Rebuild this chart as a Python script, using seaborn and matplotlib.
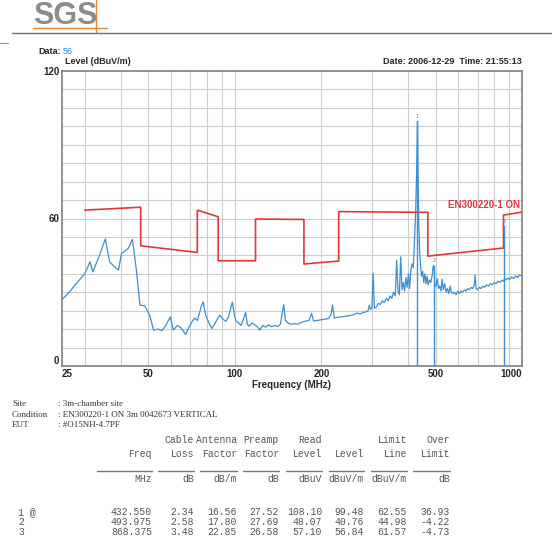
import matplotlib
matplotlib.use("Agg")
import matplotlib.pyplot as plt
import seaborn as sns
import pandas as pd
import numpy as np

freq = [25.0, 26.5, 28, 30, 31.3, 32.0, 33.5, 35.4, 36.6, 38, 39.3, 40.3, 42.5, 44.0, 45.5,
        46.7, 48.6, 50.5, 52.1, 54, 55.7, 57.5, 59.6, 61.0, 63, 65, 67.4, 69, 70.9, 72.5,
        74, 76.4, 77.6, 79, 80.5, 82, 83.2, 85, 88.5, 91, 93, 95, 98.0, 99.5, 101, 103,
        105, 107, 109, 110.5, 112, 115, 118, 120, 122, 125, 128, 131, 134, 138, 141, 144,
        146, 148, 150, 153, 157, 161, 165, 169, 173, 177, 181, 185, 188, 193, 198, 205,
        212, 216, 219, 222, 228, 235, 242, 250, 258, 266, 273, 280, 286, 291, 294, 297,
        300, 303, 306, 311, 316, 321, 326, 331, 337, 342, 347, 352, 357, 362, 366, 370,
        374, 378, 382, 386, 390, 394, 398, 402, 406, 410, 414, 418, 422, 426, 429, 432.55,
        435, 437, 440, 444, 447, 451, 455, 459, 463, 467, 471, 476, 481, 486, 490, 494,
        497, 502, 507, 512, 517, 522, 527, 532, 538, 544, 550, 556, 562, 568, 575, 582,
        590, 598, 606, 614, 622, 630, 638, 646, 655, 664, 673, 682, 687, 692, 700, 710,
        720, 730, 740, 752, 764, 776, 788, 800, 812, 825, 838, 850, 862, 868.375, 880, 893,
        906, 920, 935, 950, 965, 980, 1000]
level = [27.0, 30, 33.5, 37.5, 42.4, 38.3, 44, 51.7, 42.4, 40.5, 39.0, 45.8, 47.8, 51.5, 38,
         24.8, 24.4, 20.7, 14.6, 15.0, 14.4, 16.5, 20.0, 14.6, 16.5, 15.5, 12.8, 15.5, 18.0, 19.5,
         18.5, 24.3, 26.1, 21, 18.5, 16.5, 15.3, 17, 20.7, 19.0, 18.2, 20, 26.0, 21, 18.2, 17.5,
         16.5, 19, 21.8, 17, 16.2, 17.5, 16.5, 15.8, 14.6, 16.5, 15.8, 16.7, 16.0, 16.5, 16.0, 17.0,
         21.0, 25.0, 18.5, 17.5, 17.0, 17.2, 17.0, 17.5, 18.0, 18.3, 18.5, 21.4, 18.3, 18.5, 18.7, 19.0,
         19.3, 21.0, 24.8, 19.5, 19.8, 20.0, 20.2, 20.5, 20.8, 21.5, 21.2, 21.8, 22.0, 22.5, 24.8, 23.0,
         23.5, 37.7, 23.5, 24.0, 25.5, 25.0, 26.5, 25.8, 27.5, 26.5, 28.5, 27.5, 30.0, 28.5, 43.0, 30.5,
         29.0, 44.4, 31.0, 34.0, 30.5, 36.0, 32.0, 37.5, 31.5, 39.0, 41.5, 40.0, 50.0, 62.0, 76.0, 99.5,
         74.0, 58.0, 47.0, 40.0, 36.5, 38.5, 34.0, 37.5, 33.5, 36.5, 33.0, 35.0, 34.0, 36.5, 40.4, 40.8,
         33.0, 32.5, 35.5, 31.5, 32.5, 30.5, 35.3, 31.0, 33.5, 30.0, 31.5, 29.5, 32.5, 30.0, 29.5, 30.0,
         29.0, 30.5, 29.5, 30.5, 30.0, 31.0, 30.5, 31.5, 31.0, 32.0, 31.5, 33.0, 37.0, 31.5, 31.0, 32.0,
         31.5, 32.5, 32.0, 33.0, 32.5, 33.5, 33.0, 34.0, 33.5, 34.5, 34.0, 34.8, 34.5, 35.5, 35.0, 35.8,
         35.2, 36.2, 35.6, 36.6, 36.0, 37.0, 36.5]

# EN300220-1 limit line
lim_freq = [30, 47, 47, 74, 74, 87.5, 87.5, 118, 118, 174, 174, 230, 230, 470, 470, 862, 862, 1000]
lim_level = [63.4, 64.6, 48.9, 46.2, 63.4, 60.7, 42.8, 42.8, 59.8, 59.6, 41.5, 42.7, 62.8, 62.5,
             44.7, 48.0, 61.4, 62.6]

# marker table
mk_no = ["1 @", "2", "3"]
mk_freq = [432.550, 493.975, 868.375]
mk_cable = [2.34, 2.58, 3.48]
mk_ant = [16.56, 17.80, 22.85]
mk_pre = [27.52, 27.69, 26.58]
mk_read = [108.10, 48.07, 57.10]
mk_level = [99.48, 40.76, 56.84]
mk_limit = [62.55, 44.98, 61.57]
mk_over = [36.93, -4.22, -4.73]

sns.set_style("white")
plt.rcParams['font.family'] = ['Liberation Sans', 'DejaVu Sans']

W, H = 552, 548
fig = plt.figure(figsize=(W / 100, H / 100), dpi=100)

def px(x, y):
    return x / W, 1 - y / H

ax = fig.add_axes([62 / W, 1 - 366 / H, 460 / W, 295 / H])
ax.set_xscale('log')
ax.set_xlim(25, 1000)
ax.set_ylim(0, 120)

# grid
for g in [30, 40, 50, 60, 70, 80, 90, 100, 200, 300, 400, 500, 600, 700, 800, 900]:
    ax.axvline(g, color='#cdcdcd', lw=0.8, zorder=0)
for g in np.arange(7.5, 120, 7.5):
    ax.axhline(g, color='#cdcdcd', lw=0.8, zorder=0)

trace = pd.DataFrame({'freq': freq, 'level': level})
limit = pd.DataFrame({'freq': lim_freq, 'level': lim_level})
sns.lineplot(data=trace, x='freq', y='level', ax=ax, color='#3d8fd4', lw=0.9,
             sort=False, estimator=None)
sns.lineplot(data=limit, x='freq', y='level', ax=ax, color='#e2383a', lw=1.2,
             sort=False, estimator=None)

# marker lines
for i, (f, l) in enumerate(zip(mk_freq, mk_level)):
    ax.plot([f, f], [0, l], color='#3d8fd4', lw=1.0)
    ax.text(f, l + 1, str(i + 1), color='#3d8fd4', fontsize=4, ha='center', va='bottom')

ax.text(985, 63.5, 'EN300220-1 ON', color='#e2383a', fontsize=7, fontweight='bold',
        ha='right', va='bottom')

ax.set_xticks([25, 50, 100, 200, 500, 1000])
ax.set_xticklabels(['25', '50', '100', '200', '500', '1000'])
ax.xaxis.set_minor_locator(matplotlib.ticker.NullLocator())
ax.set_yticks([0, 60, 120])
ax.tick_params(axis='both', length=0, labelsize=7, pad=2)
for lab in ax.get_xticklabels() + ax.get_yticklabels():
    lab.set_fontweight('bold')
xl = ax.get_xticklabels()
xl[0].set_horizontalalignment('left')
xl[-1].set_horizontalalignment('right')
yl = ax.get_yticklabels()
yl[0].set_verticalalignment('bottom')
ax.set_xlabel('Frequency (MHz)', fontsize=7, fontweight='bold', labelpad=1)
ax.set_ylabel('')
for s in ax.spines.values():
    s.set_color('#808080')
    s.set_linewidth(1.2)

# header
fig.text(*px(33, 16), 'SGS', fontsize=22, fontweight='bold', color='#8c8c8c', va='center', ha='left')
fig.add_artist(plt.Line2D([96 / W, 96 / W], [1, 1 - 33 / H], color='#e8873a', lw=1.0))
fig.add_artist(plt.Line2D([33 / W, 107 / W], [1 - 28 / H, 1 - 28 / H], color='#e8873a', lw=1.0))
fig.add_artist(plt.Line2D([12 / W, 552 / W], [1 - 33 / H, 1 - 33 / H], color='#707070', lw=1.0))
fig.add_artist(plt.Line2D([0, 8 / W], [1 - 43 / H, 1 - 43 / H], color='#909090', lw=0.8))

fig.text(*px(38, 52), 'Data:', fontsize=6.5, fontweight='bold', va='center', ha='left')
fig.text(*px(63, 52), '56', fontsize=6.5, color='#2f8fe0', va='center', ha='left')
fig.text(*px(65, 61), 'Level (dBuV/m)', fontsize=6.5, fontweight='bold', va='center', ha='left')
fig.text(*px(522, 62), 'Date: 2006-12-29  Time: 21:55:13', fontsize=6.5, fontweight='bold',
         va='center', ha='right')

# info block
serif = ['Liberation Serif', 'DejaVu Serif']
for y, k, v in [(404, 'Site', ': 3m-chamber site'),
                (415, 'Condition', ': EN300220-1 ON 3m 0042673 VERTICAL'),
                (425, 'EUT', ': #O15NH-4.7PF')]:
    fig.text(*px(12, y), k, fontsize=6.5, family=serif, color='#333333', va='center')
    fig.text(*px(58, y), v, fontsize=6.5, family=serif, color='#333333', va='center')

mono = ['Liberation Mono', 'DejaVu Sans Mono']
tc = '#555555'
col_r = [152, 194, 237, 279, 322, 364, 407, 450]
hdr1 = ['', 'Cable', 'Antenna', 'Preamp', 'Read', '', 'Limit', 'Over']
hdr2 = ['Freq', 'Loss', 'Factor', 'Factor', 'Level', 'Level', 'Line', 'Limit']
units = ['MHz', 'dB', 'dB/m', 'dB', 'dBuV', 'dBuV/m', 'dBuV/m', 'dB']
for xr, a, b, c in zip(col_r, hdr1, hdr2, units):
    fig.text(*px(xr, 440), a, fontsize=7, family=mono, color=tc, ha='right', va='center')
    fig.text(*px(xr, 454), b, fontsize=7, family=mono, color=tc, ha='right', va='center')
    fig.text(*px(xr, 479), c, fontsize=7, family=mono, color=tc, ha='right', va='center')
col_l = [97, 158, 200, 243, 286, 329, 371, 413]
for xl_, xr in zip(col_l, col_r):
    fig.add_artist(plt.Line2D([xl_ / W, xr / W], [1 - 471 / H, 1 - 471 / H], color='#777777', lw=1.0))

rows_y = [512, 522, 532]
for j in range(3):
    y = rows_y[j]
    fig.text(*px(18, y), mk_no[j], fontsize=7, family=mono, color=tc, ha='left', va='center')
    vals = ['%.3f' % mk_freq[j], '%.2f' % mk_cable[j], '%.2f' % mk_ant[j], '%.2f' % mk_pre[j],
            '%.2f' % mk_read[j], '%.2f' % mk_level[j], '%.2f' % mk_limit[j], '%.2f' % mk_over[j]]
    for xr, v in zip(col_r, vals):
        fig.text(*px(xr, y), v, fontsize=7, family=mono, color=tc, ha='right', va='center')

fig.savefig('out.png', dpi=100)
